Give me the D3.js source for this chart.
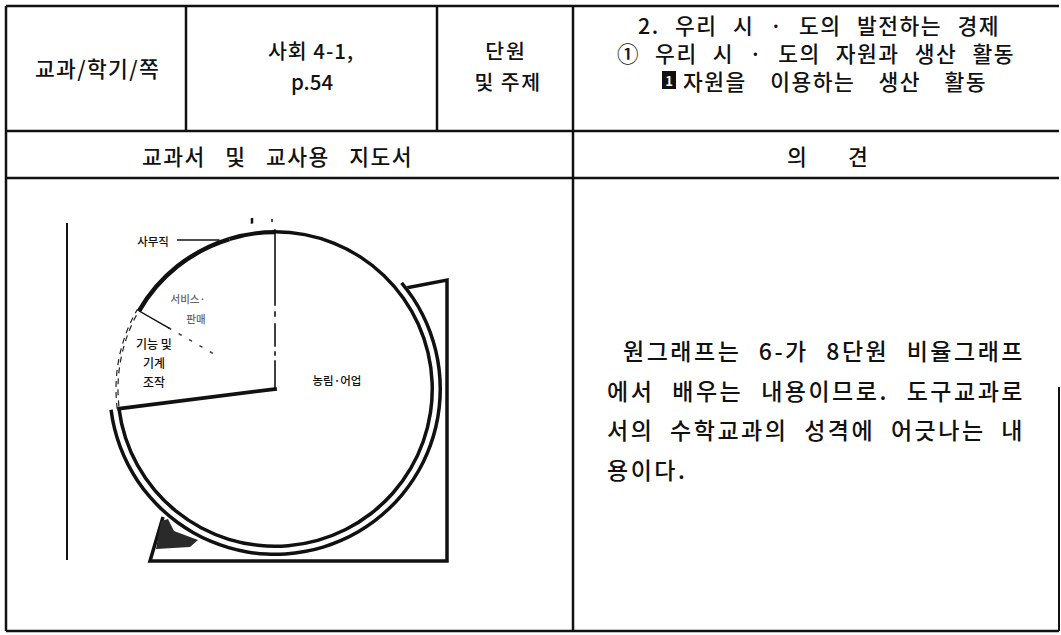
<!DOCTYPE html>
<html><head><meta charset="utf-8">
<script src="https://cdn.jsdelivr.net/npm/d3@7"></script>
<style>
body{margin:0;background:#fff}
svg{display:block}
text{font-family:"Noto Sans CJK KR","Noto Sans",sans-serif;fill:#111;font-weight:500}
</style>
</head><body>
<svg id="c" width="1061" height="635"></svg>
<script>
// ---------- data ----------
const categories = ["농림·어업", "기능 및 기계 조작", "서비스·판매", "사무직"];
const values = [73.0, 10.3, 12.0, 4.7];
const headerCells = ["교과/학기/쪽", "사회 4-1,", "p.54", "단원", "및 주제"];
const unitLines = ["2. 우리 시 · 도의 발전하는 경제", "① 우리 시 · 도의 자원과 생산 활동", "자원을 이용하는 생산 활동"];
const unitBadge = "1";
const row2Labels = ["교과서 및 교사용 지도서", "의", "견"];
const opinionLines = ["원그래프는 6-가 8단원 비율그래프", "에서 배우는 내용이므로. 도구교과로", "서의 수학교과의 성격에 어긋나는 내", "용이다."];

const svg = d3.select("#c");

// fit a text run to a width: letter-spacing fixed, spaces stretched
function fit(sel, x, width, ls) {
  sel.attr("x", x).attr("text-anchor", "start").style("letter-spacing", (ls || 0) + "px");
  const n = sel.node();
  const sp = (sel.text().match(/ /g) || []).length;
  if (sp > 0) {
    let ws = 0;
    for (let k = 0; k < 3; k++) {
      const cur = n.getComputedTextLength();
      ws += (width - cur) / sp;
      sel.style("word-spacing", ws + "px");
    }
  } else {
    let l = ls || 0;
    const nc = sel.text().length;
    for (let k = 0; k < 3; k++) {
      const cur = n.getComputedTextLength();
      l += (width - cur) / nc;
      sel.style("letter-spacing", l + "px");
    }
  }
}

// ---------- table ----------
const T = {l: 6, r: 1059, t: 6, r1: 131, r2: 178, b: 631, c1: 186, c2: 437, c3: 573};
const grid = svg.append("g").attr("stroke", "#111").attr("stroke-width", 2.5).attr("fill", "none");
[[T.l, T.t, T.r, T.t], [T.l, T.r1, T.r, T.r1], [T.l, T.r2, T.r, T.r2], [T.l, T.b, T.r, T.b],
 [T.l, T.t, T.l, T.b], [T.c1, T.t, T.c1, T.r1], [T.c2, T.t, T.c2, T.r1], [T.c3, T.t, T.c3, T.b]]
  .forEach(d => grid.append("line").attr("x1", d[0]).attr("y1", d[1]).attr("x2", d[2]).attr("y2", d[3]));
grid.append("line").attr("x1", T.r).attr("y1", 387).attr("x2", T.r).attr("y2", T.b).attr("stroke-width", 2);

const hdr = svg.append("g").style("font-size", "21.5px").attr("dominant-baseline", "central").attr("text-anchor", "middle");
fit(hdr.append("text").attr("y", 67).text(headerCells[0]), 35, 125);
const cellSmall = hdr.append("g").style("font-size", "20.5px");
cellSmall.append("text").attr("x", 311).attr("y", 50).style("letter-spacing", "1px").text(headerCells[1]);
cellSmall.append("text").attr("x", 312).attr("y", 81).text(headerCells[2]);
cellSmall.append("text").attr("x", 506).attr("y", 50).style("letter-spacing", "2px").text(headerCells[3]);
cellSmall.append("text").attr("x", 508).attr("y", 81).style("letter-spacing", "1.5px").text(headerCells[4]);

fit(hdr.append("text").attr("y", 24).text(unitLines[0]), 638, 362, 1.5);
fit(hdr.append("text").attr("y", 52).text(unitLines[1]), 617, 398, 1.5);
hdr.append("rect").attr("x", 662).attr("y", 71).attr("width", 14).attr("height", 18).attr("fill", "#111");
hdr.append("text").attr("x", 669).attr("y", 80).style("font-size", "13px").style("font-weight", 700).style("fill", "#fff").text(unitBadge);
fit(hdr.append("text").attr("y", 80).text(unitLines[2]), 683, 304, 1.5);

fit(hdr.append("text").attr("y", 155).text(row2Labels[0]), 142, 271, 1.5);
hdr.append("text").attr("x", 797).attr("y", 155).text(row2Labels[1]);
hdr.append("text").attr("x", 858).attr("y", 155).text(row2Labels[2]);

const body = svg.append("g").style("font-size", "23px").attr("dominant-baseline", "central");
const bx = [623, 607, 607, 607], bw = [402, 418, 418, 0];
opinionLines.forEach((s, i) => {
  const t = body.append("text").attr("y", 350 + i * 39.6).text(s);
  if (bw[i]) fit(t, bx[i], bw[i], 2.5); else t.attr("x", bx[i]).style("letter-spacing", "2.5px");
});

// ---------- pie figure ----------
const cx = 275, cy = 389, R = 159;
const fig = svg.append("g");
// image frame remnants
fig.append("line").attr("x1", 67).attr("y1", 223).attr("x2", 67).attr("y2", 560).attr("stroke", "#111").attr("stroke-width", 2);
fig.append("path").attr("d", "M385,292 L447,280 L447,561 L150,561 L163,517")
  .attr("fill", "none").attr("stroke", "#111").attr("stroke-width", 3.5).attr("stroke-linejoin", "miter");
fig.append("path").attr("d", "M161,521 L168,519 L174,531 L198,540 L190,547 L156,549 Z").attr("fill", "#2a2a2a");
fig.append("line").attr("x1", 252).attr("y1", 218).attr("x2", 252).attr("y2", 233).attr("stroke", "#111").attr("stroke-width", 2.5);
fig.append("line").attr("x1", 272).attr("y1", 219).attr("x2", 272).attr("y2", 233).attr("stroke", "#111").attr("stroke-width", 1.5);

const pie = d3.pie().sort(null).value(d => d)(values);
const g = fig.append("g").attr("transform", `translate(${cx},${cy})`);
const deg = Math.PI / 180;

// white body covering the frame
g.selectAll("path.fill").data(pie).join("path").attr("class", "fill")
  .attr("d", d3.arc().innerRadius(0).outerRadius(R + 8)).attr("fill", "#fff");

// outer rim (3-D edge) under the first slice
const rim = {startAngle: 50 * deg, endAngle: pie[0].endAngle};
g.append("path").attr("d", d3.arc().innerRadius(R + 4.5).outerRadius(R + 8)(rim)).attr("fill", "#111");

// slice outlines
const rimW = [3.5, 0, 4.5, 4.2];
g.selectAll("path.edge").data(pie).join("path").attr("class", "edge")
  .attr("d", (d, i) => rimW[i] ? d3.arc().innerRadius(R - rimW[i]).outerRadius(R)(d) : null)
  .attr("fill", "#111");
// faded outline of second slice
g.append("path").attr("d", d3.arc().innerRadius(R - 2).outerRadius(R)(pie[1]))
  .attr("fill", "none").attr("stroke", "#222").attr("stroke-width", 1.2).attr("stroke-dasharray", "6,5");

// dividers
const pt = (a, r) => [r * Math.sin(a), -r * Math.cos(a)];
function divider(a, r0, r1, w, dash, op) {
  const p0 = pt(a, r0), p1 = pt(a, r1);
  g.append("line").attr("x1", p0[0]).attr("y1", p0[1]).attr("x2", p1[0]).attr("y2", p1[1])
    .attr("stroke", "#111").attr("stroke-width", w).attr("stroke-dasharray", dash || null)
    .attr("opacity", op || 1).attr("stroke-linecap", "square");
}
divider(pie[0].startAngle, R, 0, 1.6, "75,7,4,8,22,6,3,6,30,5");
divider(pie[0].endAngle, R - 2, 0, 3.8);
divider(pie[1].endAngle, R - 3, R * 0.77, 1.5);
divider(pie[1].endAngle, R * 0.77, R * 0.4, 1.5, "2,10", 0.8);

// labels
const lab = fig.append("g").attr("text-anchor", "middle").attr("dominant-baseline", "central").style("font-weight", 700);
lab.append("text").attr("x", 337).attr("y", 380).style("font-size", "11.5px").text(categories[0]);
const l2 = categories[1].split(" ");
lab.append("text").attr("x", 154).attr("y", 343).style("font-size", "12px").text(l2[0] + " " + l2[1]);
lab.append("text").attr("x", 154).attr("y", 362).style("font-size", "12px").text(l2[2]);
lab.append("text").attr("x", 154).attr("y", 381).style("font-size", "12px").text(l2[3]);
const l3 = categories[2].split("·");
lab.append("text").attr("x", 188).attr("y", 298).style("font-size", "10.5px").style("fill", "#666").text(l3[0] + "·");
lab.append("text").attr("x", 196).attr("y", 318).style("font-size", "10.5px").style("fill", "#666").text(l3[1]);
lab.append("text").attr("x", 153).attr("y", 241).style("font-size", "11.5px").text(categories[3]);
// leader from label to the rim of the 사무직 slice
const ly = 240;
const lx = cx - Math.sqrt(R * R - (cy - ly) * (cy - ly));
fig.append("line").attr("x1", 177).attr("y1", ly).attr("x2", lx).attr("y2", ly)
  .attr("stroke", "#111").attr("stroke-width", 1.5);
</script>
</body></html>
